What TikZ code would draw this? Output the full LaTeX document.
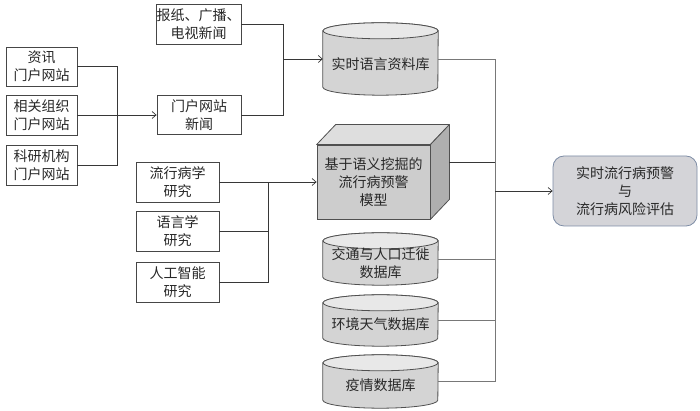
\documentclass[tikz,border=0pt]{standalone}
\usepackage{fontspec}
\setmainfont{Noto Sans CJK SC}
\usetikzlibrary{arrows.meta,backgrounds}
\definecolor{txt}{RGB}{40,40,40}
\definecolor{boxb}{RGB}{70,70,70}
\definecolor{linec}{RGB}{55,55,55}
\definecolor{linel}{RGB}{120,120,120}
\definecolor{cylbody}{RGB}{212,212,212}
\definecolor{cyltopc}{RGB}{232,232,232}
\definecolor{cylline}{RGB}{80,80,80}
\definecolor{cubefront}{RGB}{205,205,205}
\definecolor{cubetop}{RGB}{222,222,222}
\definecolor{cubeside}{RGB}{175,175,175}
\definecolor{outf}{RGB}{212,212,216}
\definecolor{outb}{RGB}{125,140,165}
\newcommand\mycyl[1]{%
  \draw[cylline, fill=cylbody, line width=0.8pt]
    ([yshift=-8pt]#1.north west) -- ([yshift=8pt]#1.south west)
    arc[start angle=180, end angle=360, x radius=57.5pt, y radius=8pt]
    -- ([yshift=-8pt]#1.north east)
    arc[start angle=0, end angle=180, x radius=57.5pt, y radius=8pt] -- cycle;
  \draw[cylline, fill=cyltopc, line width=0.8pt]
    ([yshift=-8pt]#1.north) ellipse[x radius=57.5pt, y radius=8pt];
}
\begin{document}
\begin{tikzpicture}[x=1pt,y=1pt,
  every node/.style={font=\fontsize{14}{18}\selectfont, text=txt, align=center, inner sep=0pt},
  srcbox/.style={draw=boxb, fill=white, line width=0.8pt},
  cylnode/.style={minimum width=115pt},
  conn/.style={draw=linec, line width=0.7pt},
  connl/.style={draw=linel, line width=0.7pt},
  arr/.style={conn, -{Straight Barb[length=4pt,width=7pt]}},
]
\useasboundingbox (0,0) rectangle (700,411);

% source boxes
\node[srcbox, minimum width=71pt, minimum height=39pt] (s1) at (41.5,344.5) {资讯\\门户网站};
\node[srcbox, minimum width=71pt, minimum height=40pt] (s2) at (41.5,296) {相关组织\\门户网站};
\node[srcbox, minimum width=71pt, minimum height=40pt] (s3) at (41.5,246) {科研机构\\门户网站};
\node[srcbox, minimum width=85pt, minimum height=40pt] (n1) at (198.5,387) {报纸、广播、\\电视新闻};
\node[srcbox, minimum width=84pt, minimum height=39pt] (n2) at (199,296) {门户网站\\新闻};

% research boxes
\node[srcbox, minimum width=83pt, minimum height=40pt] (r1) at (177.5,229) {流行病学\\研究};
\node[srcbox, minimum width=83pt, minimum height=40pt] (r2) at (177.5,179.5) {语言学\\研究};
\node[srcbox, minimum width=83pt, minimum height=40pt] (r3) at (177.5,129) {人工智能\\研究};

% cylinders
\node[cylnode, minimum height=72pt] (c1) at (380.5,352) {};
\node[cylnode, minimum height=52pt] (c2) at (380.5,152) {};
\node[cylnode, minimum height=51pt] (c3) at (380.5,90.5) {};
\node[cylnode, minimum height=53pt] (c4) at (380.5,29.5) {};
\begin{pgfonlayer}{background}
\mycyl{c1}
\mycyl{c2}
\mycyl{c3}
\mycyl{c4}
\end{pgfonlayer}
\node (c1t) at ([yshift=-5pt]c1.center) {实时语言资料库};
\node (c2t) at ([yshift=-4pt]c2.center) {交通与人口迁徙\\数据库};
\node (c3t) at ([yshift=-4pt]c3.center) {环境天气数据库};
\node (c4t) at ([yshift=-4pt]c4.center) {疫情数据库};

% cube
\node[draw=cylline, fill=cubefront, line width=0.8pt, minimum width=113pt, minimum height=74pt] (cube) at (373.5,229) {基于语义挖掘的\\流行病预警\\模型};
\draw[cylline, fill=cubetop, line width=0.8pt, line join=round]
  (cube.north west) -- ++(19,20) -- ([shift={(19pt,20pt)}]cube.north east) -- (cube.north east) -- cycle;
\draw[cylline, fill=cubeside, line width=0.8pt, line join=round]
  (cube.north east) -- ++(19,20) -- ([shift={(19pt,20pt)}]cube.south east) -- (cube.south east) -- cycle;
\coordinate (cubeR) at ([shift={(19pt,20pt)}]cube.east);

% output
\node[draw=outb, fill=outf, rounded corners=11pt, line width=0.8pt, minimum width=144pt, minimum height=70pt] (out) at (625,220) {实时流行病预警\\与\\流行病风险评估};

% bus coordinates
\coordinate (b1) at (117,0);
\coordinate (b2) at (283,0);
\coordinate (b3) at (268,0);
\coordinate (b4) at (495,0);

% connectors
\draw[conn] (s1.east) -- (s1.east -| b1) -- (s3.east -| b1) -- (s3.east);
\draw[arr] (s2.east) -- (n2.west);
\draw[conn] (n1.east) -- (n1.east -| b2) -- (n2.east -| b2) -- (n2.east);
\draw[arr] (c1.west -| b2) -- (c1.west);
\draw[conn] (r1.east) -- (r1.east -| b3) -- (r3.east -| b3) -- (r3.east);
\draw[conn] (r2.east) -- (r2.east -| b3);
\draw[arr] (r1.east -| b3) -- (cube.west);
\draw[connl] (c1.east) -- (c1.east -| b4) -- (c4.east -| b4) -- (c4.east);
\draw[conn] (cubeR) -- (cubeR -| b4);
\draw[connl] (c2.east) -- (c2.east -| b4);
\draw[connl] (c3.east) -- (c3.east -| b4);
\draw[arr] (out.west -| b4) -- (out.west);
\end{tikzpicture}
\end{document}
